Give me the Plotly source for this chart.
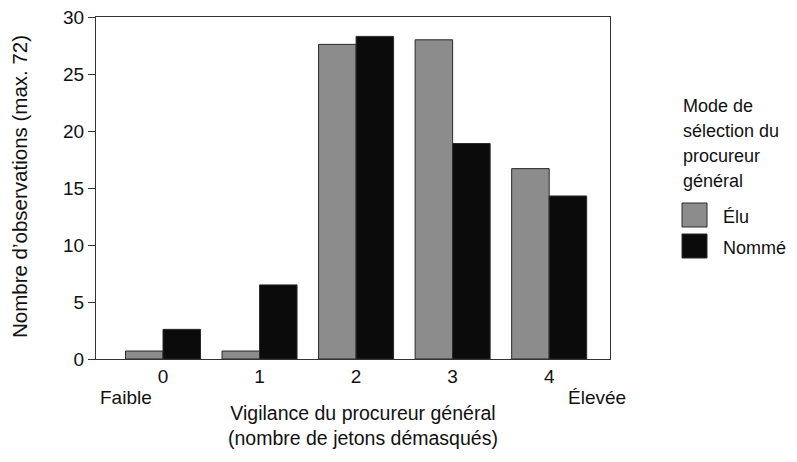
import plotly.graph_objects as go

categories = [0, 1, 2, 3, 4]
tick_labels = ["0", "1", "2", "3", "4"]
elu = [0.7, 0.7, 27.6, 28.0, 16.7]
nomme = [2.6, 6.5, 28.3, 18.9, 14.3]
series_names = ["Élu", "Nommé"]
colors = ["#8c8c8c", "#0b0b0b"]
legend_title_lines = ["Mode de", "sélection du", "procureur", "général"]

W, H = 797, 462
L, R, T, B = 96, 610, 17, 359

def px(x):
    return (x - L) / (R - L)

def py(y):
    return 1 - (y - T) / (B - T)

FONT = "Liberation Sans, Arial, sans-serif"

fig = go.Figure()
for name, vals, col in zip(series_names, [elu, nomme], colors):
    fig.add_trace(go.Bar(x=categories, y=vals, name=name,
                         marker=dict(color=col, line=dict(color="#2a2a2a", width=1)),
                         showlegend=False))

fig.update_layout(
    width=W, height=H,
    margin=dict(l=L, r=W - R, t=T, b=H - B, autoexpand=False),
    paper_bgcolor="white", plot_bgcolor="white",
    barmode="group", bargap=0.223, bargroupgap=0,
    font=dict(family=FONT, size=19, color="#111"),
    xaxis=dict(range=[-0.694, 4.63], tickvals=categories, ticktext=tick_labels,
               showgrid=False, zeroline=False, showline=True, linecolor="#333",
               linewidth=1, mirror=True, ticks="", tickfont=dict(size=19), automargin=False),
    yaxis=dict(range=[0, 30], tickvals=[0, 5, 10, 15, 20, 25, 30], showgrid=False,
               zeroline=False, showline=True, linecolor="#333", linewidth=1, mirror=True,
               ticks="outside", ticklen=7, tickcolor="#333", tickfont=dict(size=19),
               automargin=False),
)

ann = []
ann.append(dict(text="Nombre d’observations (max. 72)", textangle=-90, x=px(20), y=py(187),
                xref="paper", yref="paper", showarrow=False, xanchor="center", yanchor="middle",
                font=dict(size=20.5)))
ann.append(dict(text="Vigilance du procureur général<br>(nombre de jetons démasqués)",
                x=px(363), y=py(400), xref="paper", yref="paper", showarrow=False,
                xanchor="center", yanchor="top", font=dict(size=19.5)))
ann.append(dict(text="Faible", x=px(126), y=py(398), xref="paper", yref="paper",
                showarrow=False, xanchor="center", yanchor="middle", font=dict(size=19)))
ann.append(dict(text="Élevée", x=px(597), y=py(398), xref="paper", yref="paper",
                showarrow=False, xanchor="center", yanchor="middle", font=dict(size=19)))

title_centers = [105.5, 130.8, 156, 181.3]
for line, yc in zip(legend_title_lines, title_centers):
    ann.append(dict(text=line, x=px(681), y=py(yc), xref="paper", yref="paper",
                    showarrow=False, xanchor="left", yanchor="middle", font=dict(size=18)))

shapes = []
sw_y = [(203, 227), (234, 258)]
for (y0, y1), name, col in zip(sw_y, series_names, colors):
    shapes.append(dict(type="rect", xref="paper", yref="paper", x0=px(682), x1=px(707),
                       y0=py(y1), y1=py(y0), fillcolor=col, line=dict(color="#2a2a2a", width=1)))
    ann.append(dict(text=name, x=px(721), y=py((y0 + y1) / 2 + 2), xref="paper", yref="paper",
                    showarrow=False, xanchor="left", yanchor="middle", font=dict(size=18)))

fig.update_layout(annotations=ann, shapes=shapes)
fig.write_html("out.html", config={"displayModeBar": False},
               post_script="document.body.style.margin='0';document.body.style.overflow='hidden';")
